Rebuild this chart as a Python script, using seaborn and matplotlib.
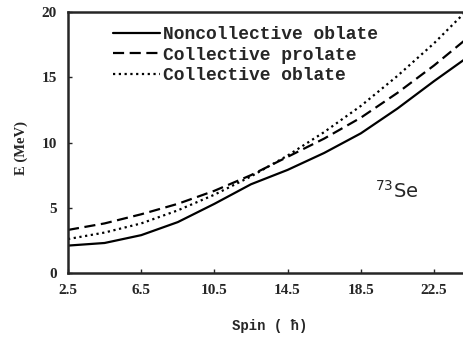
import matplotlib
matplotlib.use("Agg")
import matplotlib.pyplot as plt
import seaborn as sns
import pandas as pd

spin = [2.5, 4.5, 6.5, 8.5, 10.5, 12.5, 14.5, 16.5, 18.5, 20.5, 22.5, 24.5]
noncollective_oblate = [2.1, 2.3, 2.9, 3.9, 5.3, 6.8, 7.9, 9.2, 10.7, 12.6, 14.7, 16.7]
collective_prolate = [3.3, 3.8, 4.5, 5.3, 6.3, 7.5, 8.9, 10.3, 11.9, 13.8, 15.9, 18.2]
collective_oblate = [2.6, 3.1, 3.8, 4.8, 6.0, 7.4, 9.0, 10.8, 12.8, 15.1, 17.6, 20.4]
series_names = ["Noncollective oblate", "Collective prolate", "Collective oblate"]
xticks = [2.5, 6.5, 10.5, 14.5, 18.5, 22.5]
yticks = [0, 5, 10, 15, 20]

df = pd.DataFrame({
    "Spin": spin * 3,
    "E": noncollective_oblate + collective_prolate + collective_oblate,
    "Model": [series_names[0]] * len(spin) + [series_names[1]] * len(spin) + [series_names[2]] * len(spin),
})

sns.set_style("ticks")
plt.rcParams["font.family"] = ["Liberation Serif", "DejaVu Serif"]

fig = plt.figure(figsize=(4.63, 3.39), dpi=100)
# axes run a little past the right edge, as in the cropped original
ax = fig.add_axes([68 / 463, 66 / 339, 402.6 / 463, 261 / 339])

styles = {
    series_names[0]: "-",
    series_names[1]: (0, (5, 2.5)),
    series_names[2]: (0, (1, 1.6)),
}
for name in series_names:
    sub = df[df["Model"] == name]
    sns.lineplot(data=sub, x="Spin", y="E", ax=ax, color="black",
                 linewidth=1.6, linestyle=styles[name], label=name)

ax.set_xlim(2.5, 24.5)
ax.set_ylim(0, 20)
ax.set_xticks(xticks)
ax.set_xticklabels([str(t) for t in xticks])
ax.set_yticks(yticks)
ax.tick_params(direction="in", length=3, width=1, labelsize=11, pad=8)
for lab in ax.get_xticklabels() + ax.get_yticklabels():
    lab.set_fontweight("bold")
for s in ["left", "bottom", "top"]:
    ax.spines[s].set_linewidth(1.8)
ax.spines["right"].set_visible(False)

ax.set_xlabel("Spin ( ħ)", fontfamily="Liberation Mono", fontweight="bold", fontsize=10)
ax.set_ylabel("E (MeV)", fontsize=10.5, fontweight="bold")
ax.yaxis.set_label_coords(-0.1, 0.48)
ax.xaxis.set_label_coords(0.5, -0.175)

ax.text(19.3, 5.8, "$^{73}$Se", fontfamily="DejaVu Sans", fontsize=14)

leg = ax.legend(loc="upper left", bbox_to_anchor=(0.112, 0.945), frameon=False,
                borderaxespad=0, borderpad=0, handlelength=2.6, handletextpad=0.17,
                labelspacing=0.18, prop={"family": "Liberation Mono", "weight": "bold", "size": 13})

fig.savefig("out.png", dpi=100)
